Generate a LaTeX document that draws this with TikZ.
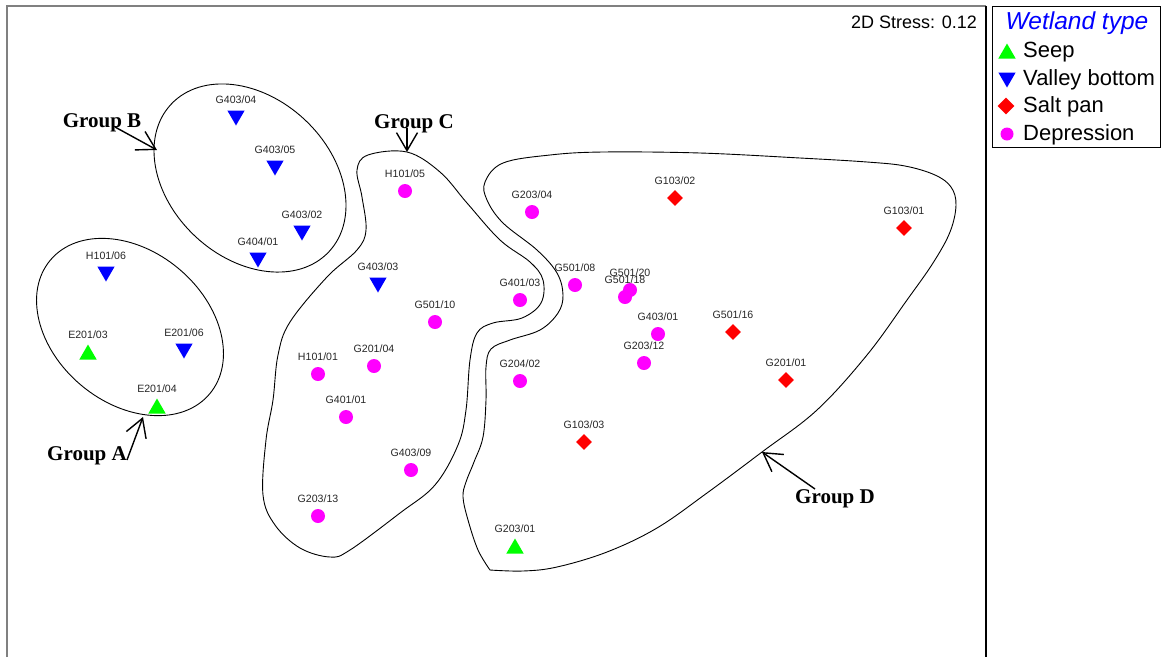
\documentclass[tikz,border=0pt]{standalone}
\usepackage{fontspec}
\setmainfont{Liberation Sans}
\newfontfamily\grpfont{Liberation Serif}
\usepackage{tikz}
\usetikzlibrary{shapes.geometric}
\usetikzlibrary{arrows.meta}
\usetikzlibrary{calc}
\definecolor{seepgreen}{RGB}{0,255,0}
\definecolor{valleyblue}{RGB}{0,0,255}
\definecolor{saltred}{RGB}{255,0,0}
\definecolor{deprmagenta}{RGB}{255,0,255}
\definecolor{framegray}{RGB}{128,128,128}

\begin{document}
\begin{tikzpicture}[x=1pt,y=-1pt,>={Straight Barb[length=18pt,width=21pt]}]
        \tikzset{lbl/.style={font=\fontsize{10.6}{12}\selectfont, text=black!85, inner sep=0pt, anchor=base},
        seep/.style={regular polygon, regular polygon sides=3, fill=seepgreen, inner sep=0pt, minimum size=20pt, yshift=-2.5pt},
        valley/.style={regular polygon, regular polygon sides=3, shape border rotate=180, fill=valleyblue, inner sep=0pt, minimum size=20pt, yshift=2.5pt},
        saltpan/.style={diamond, fill=saltred, inner sep=0pt, minimum width=16pt, minimum height=16pt},
        depr/.style={circle, fill=deprmagenta, inner sep=0pt, minimum size=14pt},
        envelope/.style={draw, line width=0.9pt},
        grp/.style={font=\grpfont\bfseries\fontsize{21}{24}\selectfont, inner sep=0pt, anchor=base},
        grparrow/.style={->, line width=1.4pt},
        legtext/.style={font=\fontsize{22}{26}\selectfont, inner sep=0pt, anchor=base west},
        }
        \useasboundingbox (0,0) rectangle (1162,657);

%% frame and legend box
        \draw[framegray, line width=2pt] (7,657) -- (7,6) -- (986,6);
        \draw[line width=1.2pt] (986,6) -- (986,657);
        \draw[line width=0.9pt] (992,6) rectangle (1160,147);
        \node[font=\fontsize{18}{20}\selectfont, inner sep=0pt, anchor=base east] (stress) at (977,28) {2D Stress: 0.12};

%% sites
        \foreach \nm/\x/\y/\txt in {g40304/236/118/{G403/04}, g40305/275/168/{G403/05}, g40302/302/233/{G403/02},
                g40401/258/260/{G404/01}, h10106/106/274/{H101/06}, e20106/184/351/{E201/06}, g40303/378/285/{G403/03}}{
            \node[valley] (\nm) at (\x,\y) {};
            \node[lbl] at (\x,\y-15) {\txt};
        }
        \foreach \nm/\x/\y/\txt in {e20103/88/352/{E201/03}, e20104/157/406/{E201/04}, g20301/515/546/{G203/01}}{
            \node[seep] (\nm) at (\x,\y) {};
            \node[lbl] at (\x,\y-14) {\txt};
        }
        \foreach \nm/\x/\y/\txt in {g10302/675/198/{G103/02}, g10301/904/228/{G103/01}, g50116/733/332/{G501/16},
                g20101/786/380/{G201/01}, g10303/584/442/{G103/03}}{
            \node[saltpan] (\nm) at (\x,\y) {};
            \node[lbl] at (\x,\y-14) {\txt};
        }
        \foreach \nm/\x/\y/\txt in {h10105/405/191/{H101/05}, g50110/435/322/{G501/10}, h10101/318/374/{H101/01},
                g20104/374/366/{G201/04}, g40101/346/417/{G401/01}, g40309/411/470/{G403/09}, g20313/318/516/{G203/13},
                g40103/520/300/{G401/03}, g20402/520/381/{G204/02}, g20304/532/212/{G203/04}, g50108/575/285/{G501/08},
                g50120/630/290/{G501/20}, g50118/625/297/{G501/18}, g40301/658/334/{G403/01}, g20312/644/363/{G203/12}}{
            \node[depr] (\nm) at (\x,\y) {};
            \node[lbl] at (\x,\y-14) {\txt};
        }

%% group envelopes
        \draw[envelope, rotate around={-40:(130,327)}] (130,327) ellipse [x radius=104, y radius=76];
        \draw[envelope, rotate around={-43:(250,178)}] (250,178) ellipse [x radius=108, y radius=80];
        \draw[envelope] plot[smooth cycle, tension=0.6] coordinates {(407,152) (440,172) (467,203) (500,240) (530,262)
            (543,280) (541,303) (522,318) (493,323) (477,333) (470,360) (466,410) (458,445) (435,485) (400,513)
            (350,550) (330,557) (300,548) (275,525) (263,495) (266,440) (273,400) (278,355) (290,322) (327,277)
            (357,250) (366,230) (362,197) (357,170) (368,155)};
        \draw[envelope] plot[smooth, tension=0.6] coordinates {(490,570) (478,550) (468,520) (463,497) (466,482)
            (474,462) (483,437) (486,400) (486,367) (491,349) (510,340) (540,330) (558,313) (563,295) (557,273)
            (537,250) (503,223) (487,200) (485,182) (503,163) (550,155) (603,152) (700,153) (800,158) (867,162)
            (905,166) (935,175) (951,187) (956,205) (950,232) (933,263) (907,300) (867,355) (817,410)
            (762,452) (707,493) (657,528) (607,552) (557,567) (523,571) (490,570)};

%% group labels
        \node[grp] (grpA) at (87,460) {Group A};
        \node[grp] (grpB) at (102,127) {Group B};
        \node[grp] (grpC) at (414,128) {Group C};
        \node[grp] (grpD) at (835,503) {Group D};
        \coordinate (tipA) at (143,417);
        \coordinate (tipB) at (157,150);
        \coordinate (tipC) at (407,152);
        \coordinate (tipD) at (762,452);
        \draw[grparrow] (grpA.base east) -- (tipA);
        \draw[grparrow] ([xshift=13pt]grpB.base) -- (tipB);
        \draw[grparrow] ([xshift=-7pt]grpC.base) -- (tipC);
        \draw[grparrow] ([xshift=-20pt,yshift=14pt]grpD.base) -- (tipD);

%% legend
        \node[font=\itshape\fontsize{24.5}{28}\selectfont, text=valleyblue, inner sep=0pt, anchor=base] (legtitle) at (1077,29) {Wetland type};
        \node[seep] (lseep) at (1007,51) {};
        \node[valley] (lvalley) at (1007,80) {};
        \node[saltpan, minimum width=17pt, minimum height=17pt] (lsalt) at (1006,106) {};
        \node[depr, minimum size=13pt] (ldepr) at (1007,134) {};
        \node[legtext] (tseep) at (1023,57) {Seep};
        \node[legtext] (tvalley) at (1023,85) {Valley bottom};
        \node[legtext] (tsalt) at (1023,112) {Salt pan};
        \node[legtext] (tdepr) at (1023,140) {Depression};
    \end{tikzpicture}
\end{document}
